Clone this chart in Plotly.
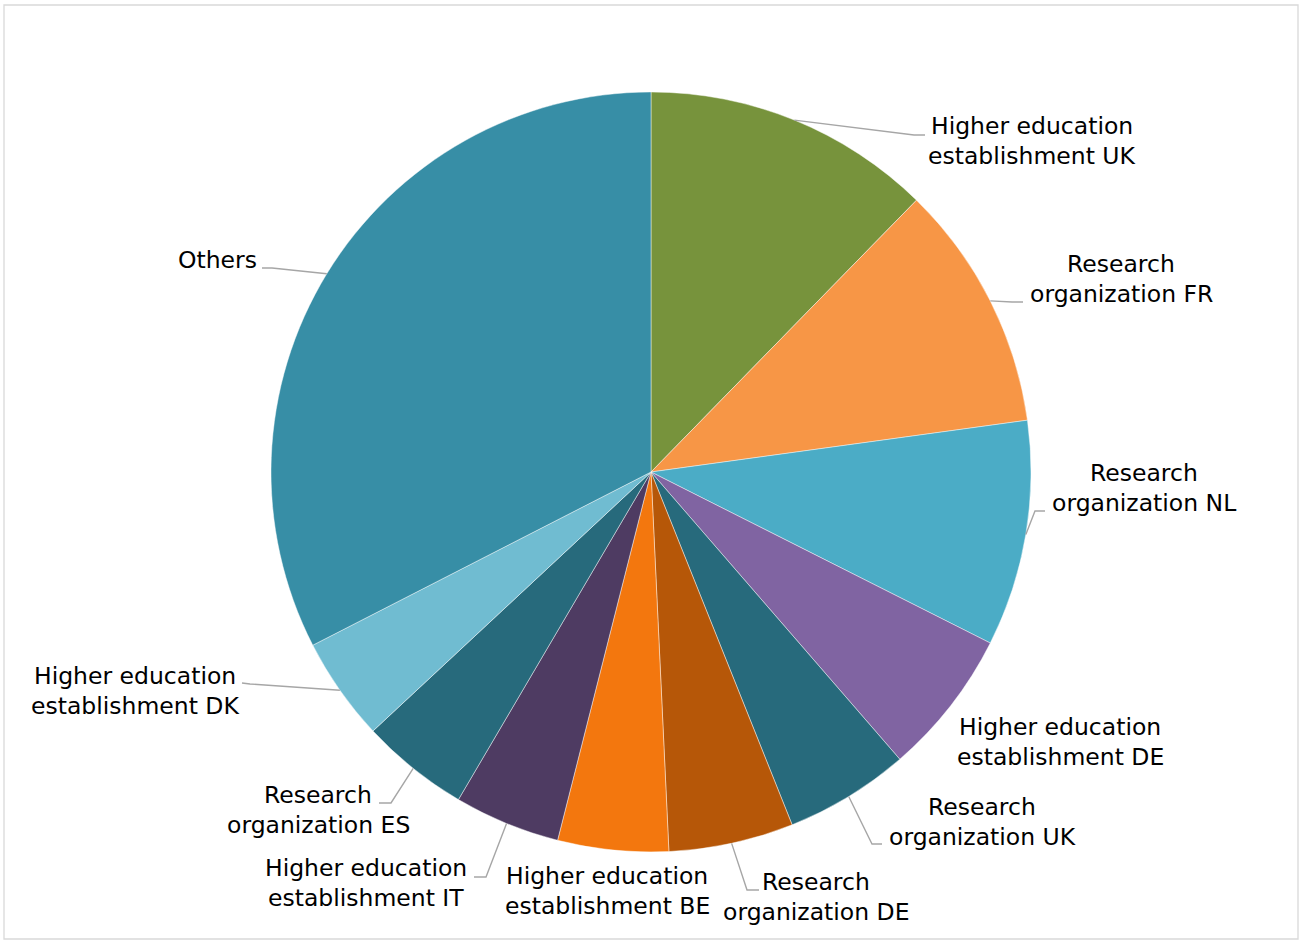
import math
import plotly.graph_objects as go

# Share of participations by organisation (percent), clockwise from 12 o'clock
labels = [
    "Higher education establishment UK",
    "Research organization FR",
    "Research organization NL",
    "Higher education establishment DE",
    "Research organization UK",
    "Research organization DE",
    "Higher education establishment BE",
    "Higher education establishment IT",
    "Research organization ES",
    "Higher education establishment DK",
    "Others",
]
shares = [12.3, 10.5, 9.6, 6.2, 5.3, 5.3, 4.7, 4.5, 4.6, 4.4, 32.5]
colors = [
    "#77933C", "#F79646", "#4BACC6", "#8064A2", "#276A7C", "#B65708",
    "#F3770E", "#4E3B62", "#276A7C", "#70BCD1", "#378EA6",
]
# Label text as displayed, one entry per line
label_lines = [
    ["Higher education", "establishment UK"],
    ["Research", "organization FR"],
    ["Research", "organization NL"],
    ["Higher education", "establishment DE"],
    ["Research", "organization UK"],
    ["Research", "organization DE"],
    ["Higher education", "establishment BE"],
    ["Higher education", "establishment IT"],
    ["Research", "organization ES"],
    ["Higher education", "establishment DK"],
    ["Others"],
]

# ---- layout geometry (pixels) ----
W, H = 1301, 941
CX, CY, R = 651, 472, 380
LINE_GAP = 29.5

# label centres
label_pos = [
    (1032, 141), (1121, 279), (1144, 488), (1060, 742), (982, 822),
    (816, 897), (607, 891), (366, 883), (318, 810), (135, 691), (217, 260),
]
# leader line elbow and end points (None = no leader)
leaders = [
    ((914, 135), (925, 135)),
    ((1012, 302), (1023, 302)),
    ((1035, 511), (1045, 511)),
    None,
    ((872, 844), (882, 844)),
    ((747, 890), (759, 890)),
    None,
    ((486, 877), (474, 877)),
    ((391, 803), (379, 803)),
    ((250, 684), (242, 683)),
    ((272, 268), (262, 268)),
]


def px(x):
    return x / W


def py(y):
    return 1 - y / H


fig = go.Figure()
fig.add_trace(go.Pie(
    labels=labels,
    values=shares,
    sort=False,
    direction="clockwise",
    rotation=0,
    marker=dict(colors=colors, line=dict(color="rgba(255,255,255,0.55)", width=0.8)),
    textinfo="none",
    hoverinfo="label+percent",
    showlegend=False,
    domain=dict(x=[px(CX - R), px(CX + R)], y=[py(CY + R), py(CY - R)]),
))

# leader lines start on the rim at each slice's mid-angle
total = sum(shares)
shapes = []
cum = 0.0
for v, lead in zip(shares, leaders):
    mid = (cum + v / 2) / total * 2 * math.pi
    cum += v
    if lead is None:
        continue
    sx = CX + R * math.sin(mid)
    sy = CY - R * math.cos(mid)
    (ex, ey), (tx, ty) = lead
    path = f"M {px(sx)},{py(sy)} L {px(ex)},{py(ey)} L {px(tx)},{py(ty)}"
    shapes.append(dict(type="path", xref="paper", yref="paper", path=path,
                       line=dict(color="#A6A6A6", width=1.4)))

# outer frame
shapes.append(dict(type="rect", xref="paper", yref="paper",
                   x0=px(4), x1=px(1298), y0=py(939), y1=py(5),
                   line=dict(color="#D9D9D9", width=1.3), fillcolor="rgba(0,0,0,0)"))

annotations = []
for lines, (x, y) in zip(label_lines, label_pos):
    n = len(lines)
    for i, line in enumerate(lines):
        ly = y + (i - (n - 1) / 2) * LINE_GAP
        annotations.append(dict(
            x=px(x), y=py(ly), xref="paper", yref="paper", text=line,
            showarrow=False, xanchor="center", yanchor="middle",
            font=dict(family="DejaVu Sans", size=23.5, color="#000000"),
        ))

fig.update_layout(
    width=W, height=H,
    margin=dict(l=0, r=0, t=0, b=0),
    paper_bgcolor="white",
    plot_bgcolor="white",
    shapes=shapes,
    annotations=annotations,
    font=dict(family="DejaVu Sans"),
)

fig.write_html("out.html")
